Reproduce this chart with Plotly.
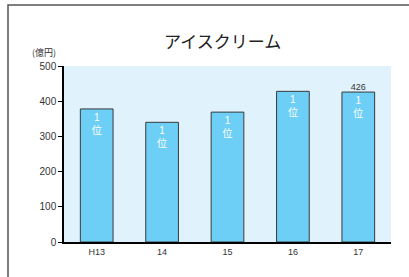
import plotly.graph_objects as go

categories = ["H13", "14", "15", "16", "17"]
values = [378, 340, 369, 428, 426]
rank_labels = ["1<br>位"] * 5
y_ticks = [0, 100, 200, 300, 400, 500]
title_text = "アイスクリーム"
unit_text = "(億円)"
value_label = "426"

L, R, T, B = 64, 18, 66, 35
W, H = 409, 277
pw, ph = W - L - R, H - T - B

def px(x):
    return (x - L) / pw

def py(y):
    return 1 - (y - T) / ph

fig = go.Figure()
fig.add_trace(go.Bar(
    x=categories, y=values,
    width=0.5,
    marker=dict(color="#6dcff6", line=dict(color="#3a3a3a", width=1)),
    text=rank_labels,
    textposition="inside",
    insidetextanchor="end",
    textangle=0,
    textfont=dict(color="white", size=10, family="Liberation Sans, Noto Sans CJK JP"),
    cliponaxis=False,
    hoverinfo="skip",
))
fig.add_trace(go.Scatter(
    x=[categories[4]], y=[values[4]],
    mode="text", text=[value_label], textposition="top center",
    textfont=dict(size=9, color="#333", family="Liberation Sans"),
    cliponaxis=False, hoverinfo="skip",
))

fig.add_annotation(x=px(222), y=py(41), xref="paper", yref="paper",
                   text=title_text, showarrow=False, xanchor="center", yanchor="middle",
                   font=dict(size=17, color="#222", family="Noto Sans CJK JP"))
fig.add_annotation(x=px(44), y=py(53), xref="paper", yref="paper",
                   text=unit_text, showarrow=False, xanchor="center", yanchor="middle",
                   font=dict(size=9, color="#333", family="Noto Sans CJK JP"))

# outer frame (top and left edges)
fig.add_shape(type="path", xref="paper", yref="paper",
              path=f"M {px(8)} {py(300)} L {px(8)} {py(5)} L {px(420)} {py(5)}",
              line=dict(color="#555", width=1.5))

fig.update_layout(
    width=W, height=H,
    margin=dict(l=L, r=R, t=T, b=B),
    paper_bgcolor="white",
    plot_bgcolor="#e0f2fc",
    showlegend=False,
    hovermode=False,
    xaxis=dict(type="category", categoryorder="array", categoryarray=categories,
               showline=True, linecolor="black", linewidth=1.5, ticks="",
               tickfont=dict(size=9, color="#333", family="Liberation Sans"),
               showgrid=False, fixedrange=True),
    yaxis=dict(range=[0, 500], tickvals=y_ticks, showline=True, linecolor="black",
               linewidth=1.5, ticks="outside", ticklen=4, tickcolor="black",
               tickfont=dict(size=10, color="#333", family="Liberation Sans"),
               showgrid=False, zeroline=False, fixedrange=True),
)

fig.write_html("out.html", config={"displayModeBar": False},
               post_script="document.body.style.margin='0';document.body.style.overflow='hidden';")
